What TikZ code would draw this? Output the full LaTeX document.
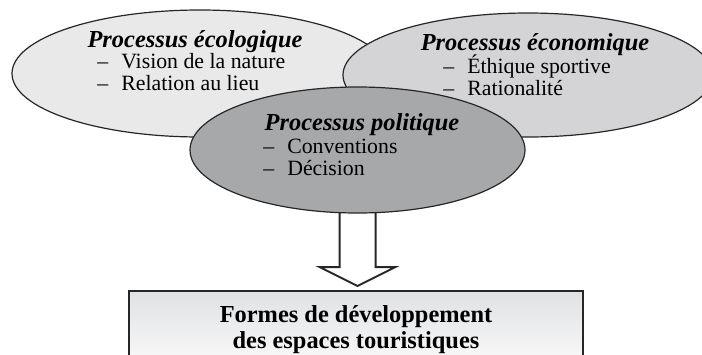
\documentclass[tikz,border=0pt]{standalone}
\usepackage{fontspec}
\setmainfont{Liberation Serif}
\usepackage{xcolor}
\usetikzlibrary{shapes.geometric, calc, backgrounds}

\definecolor{ecoFill}{RGB}{233,233,234}
\definecolor{econFill}{RGB}{212,212,214}
\definecolor{polFill}{RGB}{167,168,170}
\definecolor{goalTop}{RGB}{224,225,227}
\definecolor{goalBottom}{RGB}{251,251,251}

\begin{document}
\begin{tikzpicture}[x=0.5pt, y=-0.5pt,
    process/.style={ellipse, draw=black!85, line width=0.6pt, inner sep=0pt},
    ptitle/.style={anchor=base, inner sep=0pt, font=\fontsize{12.2}{14}\selectfont\bfseries\itshape},
    plist/.style={anchor=base west, inner sep=0pt, align=left, font=\fontsize{10.9}{11}\selectfont},
    goal/.style={rectangle, draw=black!85, line width=1.1pt, top color=goalTop, bottom color=goalBottom, minimum width=227pt, minimum height=39pt, align=center, font=\fontsize{12.2}{13}\selectfont\bfseries},
    bigarrow/.style={draw=black!85, line width=1pt, fill=white}
]
\useasboundingbox (0,0) rectangle (702,354);
\clip (0,0) rectangle (702,354);

% the three processes
\node[process, fill=ecoFill, minimum width=188pt, minimum height=63.5pt] (eco) at (200,73.5) {};
\node[ptitle] (ecotitle) at (195,47) {Processus écologique};
\node[plist] (ecolist) at (97,90) {–\hspace{6.5pt}Vision de la nature\\–\hspace{6.5pt}Relation au lieu};

\node[process, fill=econFill, minimum width=185pt, minimum height=62pt] (econ) at (528,75) {};
\node[ptitle] (econtitle) at (535,50) {Processus économique};
\node[plist] (econlist) at (443,95) {–\hspace{6.5pt}Éthique sportive\\–\hspace{6.5pt}Rationalité};

\node[process, fill=polFill, minimum width=167.5pt, minimum height=63pt] (pol) at (357.5,150) {};
\node[ptitle] (poltitle) at (362,130) {Processus politique};
\node[plist] (pollist) at (263,175) {–\hspace{6.5pt}Conventions\\–\hspace{6.5pt}Décision};

% result
\node[goal, anchor=north] (forms) at (356,290) {Formes de développement\\des espaces touristiques};

\coordinate (tip) at ($(pol.south |- forms.north)+(0,-4)$);
\begin{scope}[on background layer]
\draw[bigarrow] ($(pol.south)+(-18,-10)$) |- ($(tip)+(-38,-19)$) -- (tip) -- ($(tip)+(38,-19)$) -| ($(pol.south)+(18,-10)$);
\end{scope}
\end{tikzpicture}
\end{document}
